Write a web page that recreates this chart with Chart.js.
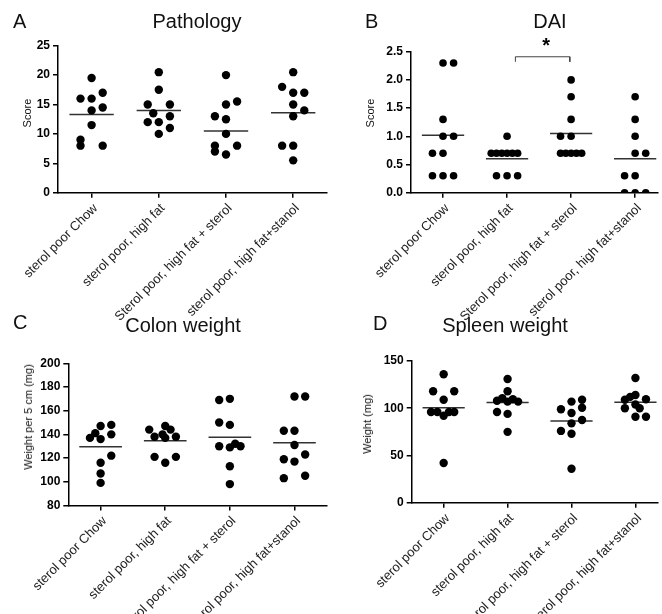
<!DOCTYPE html>
<html>
<head>
<meta charset="utf-8">
<script src="https://cdn.jsdelivr.net/npm/chart.js@4.4.1/dist/chart.umd.min.js"></script>
<style>
  body { margin: 0; background: #fff; }
  #page { position: relative; width: 662px; height: 614px; overflow: hidden; font-family: "Liberation Sans", Arial, sans-serif; color: #111; }
  canvas { position: absolute; }
  .letter, .title { position: absolute; font-size: 20px; line-height: 20px; white-space: nowrap; }
  .title { transform: translateX(-50%); }
  .ytitle { position: absolute; font-size: 11px; line-height: 12px; white-space: nowrap; transform: translate(-50%, -50%) rotate(-90deg); }
</style>
</head>
<body>
<div id="page">
  <canvas id="chartA" width="331" height="340" style="left:0;top:0"></canvas>
  <canvas id="chartB" width="331" height="340" style="left:331px;top:0"></canvas>
  <canvas id="chartC" width="331" height="307" style="left:0;top:307px"></canvas>
  <canvas id="chartD" width="331" height="307" style="left:331px;top:307px"></canvas>

  <div class="letter" style="left:13px;top:11px">A</div>
  <div class="title" style="left:197px;top:11px">Pathology</div>
  <div class="letter" style="left:365px;top:11px">B</div>
  <div class="title" style="left:550px;top:11px">DAI</div>
  <div class="letter" style="left:13px;top:312px">C</div>
  <div class="title" style="left:183px;top:315px">Colon weight</div>
  <div class="letter" style="left:373px;top:313px">D</div>
  <div class="title" style="left:505px;top:315px">Spleen weight</div>

  <div class="ytitle" style="left:27px;top:113px">Score</div>
  <div class="ytitle" style="left:370px;top:113px">Score</div>
  <div class="ytitle" style="left:28px;top:417px">Weight per 5 cm (mg)</div>
  <div class="ytitle" style="left:367px;top:424px">Weight (mg)</div>
</div>

<script>
const groups = ['sterol poor Chow', 'sterol poor, high fat', 'Sterol poor, high fat + sterol', 'sterol poor, high fat+stanol'];

// A - pathology score, one row per group
const pathologyScores = [
    [19.5, 16, 16, 17, 14, 14.5, 11.5, 9, 8, 8],
    [20.5, 17.5, 15, 15, 13.5, 13, 12, 12, 11, 10],
    [20, 15, 15.5, 13, 12.5, 10, 8, 8, 7, 6.5],
    [20.5, 18, 17, 17, 15, 14, 13, 8, 8, 5.5]
];
const pathologyJitter = [
    [0, -1, 0, 1, 0, 1, 0, -1, -1, 1],
    [0, 0, -1, 1, -0.5, 1, -1, 0, 1, 0],
    [0, 0, 1, -1, 0, 0, -1, 1, -1, 0],
    [0, -1, 0, 1, 0, 1, 0, -1, 0, 0]
];
const pathologyMeans = [13.3, 14.0, 10.5, 13.6];

// B - DAI
const daiScores = [
    [2.3, 2.3, 1.3, 1.0, 1.0, 0.7, 0.7, 0.3, 0.3, 0.3],
    [1.0, 0.7, 0.7, 0.7, 0.7, 0.7, 0.7, 0.3, 0.3, 0.3],
    [2.0, 1.7, 1.3, 1.0, 1.0, 0.7, 0.7, 0.7, 0.7, 0.7],
    [1.7, 1.3, 1.0, 0.7, 0.7, 0.3, 0.3, 0.0, 0.0, 0.0]
];
const daiJitter = [
    [0, 1, 0, 0, 1, -1, 0, -1, 0, 1],
    [0, -1.5, -1, -0.5, 0, 0.5, 1, -1, 0, 1],
    [0, 0, 0, -1, 0, -1, -0.5, 0, 0.5, 1],
    [0, 0, 0, 0, 1, -1, 0, -1, 0, 1]
];
const daiMeans = [1.02, 0.60, 1.05, 0.60];
const daiBracket = { from: 2.13, to: 2.98, top: 2.41, tip: 2.32 };
const daiStar = { text: '*', x: 2.61, y: 2.5 };

// C - colon weight per 5 cm (mg)
const colonWeights = [
    [147, 148, 141, 140, 137, 136, 122, 116, 107, 99],
    [144, 147, 144, 138, 138, 140, 137, 121, 116, 121],
    [169, 170, 150, 148, 130, 129, 132, 130, 113, 98],
    [172, 172, 143, 143, 131, 119, 123, 117, 103, 105]
];
const colonJitter = [
    [0, 1, -0.5, 1, -1, 0, 1, 0, 0, 0],
    [-1.5, 0, 0.5, 1, -1, -0.25, 0, -1, 0, 1],
    [-1, 0, -1, 0, -1, 0, 0.5, 1, 0, 0],
    [0, 1, -1, 0, 0, -1, 1, 0, -1, 1]
];
const colonMeans = [129.5, 134.6, 137.5, 133];

// D - spleen weight (mg)
const spleenWeights = [
    [136, 118, 118, 109, 96, 96, 96, 96, 92, 42],
    [131, 118, 108, 110.5, 107, 109.5, 107, 96, 94, 75],
    [107, 109, 99, 100.5, 95, 84, 87.5, 76, 73, 36],
    [132, 114, 112, 109, 109.5, 100, 104, 100, 91, 91]
];
const spleenJitter = [
    [0, -1, 1, 0, -1.2, -0.6, 0.5, 1, 0, 0],
    [0, 0, -1, -0.5, 0, 0.5, 1, -1, 0, 0],
    [0, 1, -1, 1, 0, 0, 1, -1, 0, 0],
    [0, 0, -0.5, -1, 1, -1, 0, 0.4, 0, 1]
];
const spleenMeans = [100.5, 106, 86.5, 106.3];

const SLOT = 0.165;      // width of one jitter step, in group units
const MEAN_HALF = 0.33;  // half length of the mean bar

Chart.defaults.font.family = '"Liberation Sans", Arial, sans-serif';

function dots(values, jitter) {
    const pts = [];
    values.forEach((grp, g) => {
        grp.forEach((v, i) => pts.push({ x: g + 1 + jitter[g][i] * SLOT, y: v }));
    });
    return pts;
}

function meanBars(means) {
    const pts = [];
    means.forEach((m, g) => {
        pts.push({ x: g + 1 - MEAN_HALF, y: m }, { x: g + 1 + MEAN_HALF, y: m }, { x: g + 1.5, y: null });
    });
    return pts;
}

const starPlugin = {
    id: 'star',
    afterDatasetsDraw(chart) {
        const { ctx, scales } = chart;
        ctx.save();
        ctx.font = 'bold 20px "Liberation Sans", Arial';
        ctx.fillStyle = '#000';
        ctx.textAlign = 'center';
        ctx.textBaseline = 'alphabetic';
        ctx.fillText(daiStar.text, scales.x.getPixelForValue(daiStar.x), scales.y.getPixelForValue(daiStar.y));
        ctx.restore();
    }
};

function makeChart(id, p) {
    const datasets = [
        { data: dots(p.values, p.jitter), backgroundColor: '#000', borderWidth: 0, pointRadius: p.radius, pointHoverRadius: p.radius },
        { data: meanBars(p.means), showLine: true, spanGaps: false, borderColor: '#333', borderWidth: 1.5, pointRadius: 0 }
    ].concat(p.extra || []);

    return new Chart(document.getElementById(id), {
        type: 'scatter',
        data: { datasets },
        options: {
            responsive: false,
            animation: false,
            events: [],
            layout: { padding: { top: p.top, right: p.right, left: 0, bottom: 0 } },
            plugins: { legend: { display: false }, tooltip: { enabled: false } },
            scales: {
                x: {
                    type: 'linear',
                    min: 0.5,
                    max: p.xMax,
                    afterBuildTicks: axis => { axis.ticks = groups.map((_, i) => ({ value: i + 1 })); },
                    afterFit: axis => { axis.height = p.xHeight; },
                    grid: { drawOnChartArea: false, tickLength: 5, color: '#000', lineWidth: 1.5 },
                    border: { color: '#000', width: 1.5 },
                    ticks: {
                        autoSkip: false, minRotation: 45, maxRotation: 45, padding: 3, labelOffset: 4,
                        color: '#222', font: { size: 13 },
                        callback: v => groups[Math.round(v) - 1]
                    }
                },
                y: {
                    min: p.yMin,
                    max: p.yMax,
                    afterFit: axis => { axis.width = p.yWidth; },
                    grid: { drawOnChartArea: false, tickLength: 5, color: '#000', lineWidth: 1.5 },
                    border: { color: '#000', width: 1.5 },
                    ticks: { stepSize: p.yStep, padding: 3, color: '#000', font: { size: 12, weight: 'bold' }, callback: p.yLabel || (v => v) }
                }
            }
        },
        plugins: p.plugins || []
    });
}

makeChart('chartA', {
    values: pathologyScores, jitter: pathologyJitter, means: pathologyMeans, radius: 4.2,
    yMin: 0, yMax: 25, yStep: 5,
    top: 45.7, right: 4, yWidth: 58, xHeight: 340 - 192.7, xMax: 4.5
});

makeChart('chartB', {
    values: daiScores, jitter: daiJitter, means: daiMeans, radius: 3.8,
    yMin: 0, yMax: 2.5, yStep: 0.5, yLabel: v => v.toFixed(1),
    top: 51.7, right: 0, yWidth: 80, xHeight: 340 - 192.7, xMax: 4.36,
    extra: [{
        data: [
            { x: daiBracket.from, y: daiBracket.tip }, { x: daiBracket.from, y: daiBracket.top },
            { x: daiBracket.to, y: daiBracket.top }, { x: daiBracket.to, y: daiBracket.tip }
        ],
        showLine: true, borderColor: '#444', borderWidth: 1, pointRadius: 0
    }],
    plugins: [starPlugin]
});

makeChart('chartC', {
    values: colonWeights, jitter: colonJitter, means: colonMeans, radius: 4.2,
    yMin: 80, yMax: 200, yStep: 20,
    top: 56.3, right: 3, yWidth: 68.3, xHeight: 307 - 198.4, xMax: 4.5
});

makeChart('chartD', {
    values: spleenWeights, jitter: spleenJitter, means: spleenMeans, radius: 4.2,
    yMin: 0, yMax: 150, yStep: 50,
    top: 54, right: 0, yWidth: 80.7, xHeight: 307 - 195.7, xMax: 4.35
});
</script>
</body>
</html>
